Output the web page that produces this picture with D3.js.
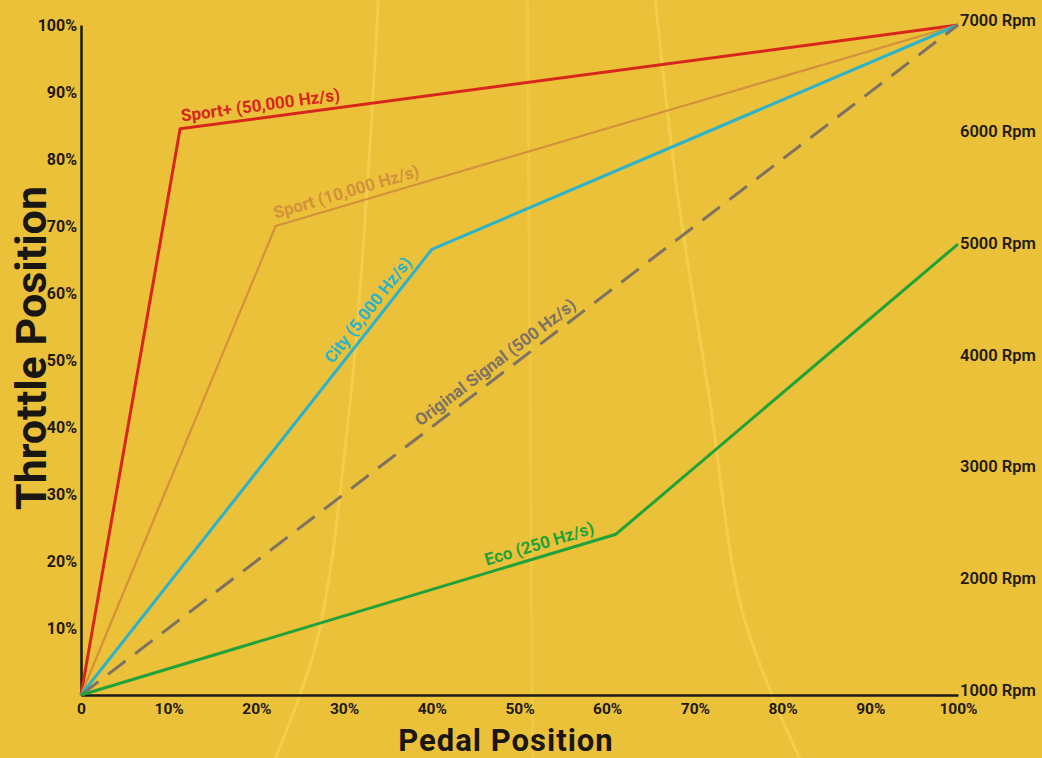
<!DOCTYPE html>
<html>
<head>
<meta charset="utf-8">
<script src="https://cdn.jsdelivr.net/npm/d3@7"></script>
<style>
  html, body { margin: 0; padding: 0; background: #ECC13A; }
  svg { display: block; }
  text { font-family: Roboto, "DejaVu Sans", sans-serif; }
</style>
</head>
<body>
<svg id="chart" width="1042" height="758"></svg>
<script>
// ---------- data ----------
const xTicks = [0, 10, 20, 30, 40, 50, 60, 70, 80, 90, 100];
const xTickLabels = ["0", "10%", "20%", "30%", "40%", "50%", "60%", "70%", "80%", "90%", "100%"];
const yTicks = [10, 20, 30, 40, 50, 60, 70, 80, 90, 100];
const yTickLabels = ["10%", "20%", "30%", "40%", "50%", "60%", "70%", "80%", "90%", "100%"];
const rpmTicks = [1000, 2000, 3000, 4000, 5000, 6000, 7000];

const seriesNames = ["Sport+ (50,000 Hz/s)", "Sport (10,000 Hz/s)", "City (5,000 Hz/s)", "Original Signal (500 Hz/s)", "Eco (250 Hz/s)"];
const sportPlusPedal = [0, 11.3, 100];
const sportPlusThrottle = [0, 84.5, 100];
const sportPedal = [0, 22.2, 100];
const sportThrottle = [0, 70, 100];
const cityPedal = [0, 40, 100];
const cityThrottle = [0, 66.5, 100];
const originalPedal = [0, 100];
const originalThrottle = [0, 100];
const ecoPedal = [0, 61, 100];
const ecoThrottle = [0, 24, 67.3];
// pedal position at which each series label starts
const labelStartPedal = [11.6, 22.4, 29.3, 39.2, 46.5];

// decorative road lines (in chart units)
const roadLeftPedal = [33.9, 32.6, 30.7, 26.9, 22.1];
const roadLeftThrottle = [103.7, 75, 43.9, 8.1, -9.6];
const roadCenterPedal = [50.9, 51.2, 51.5];
const roadCenterThrottle = [103.7, 47, -9.6];
const roadRightPedal = [65.5, 68.0, 71.7, 75.1, 78.6, 82.0];
const roadRightThrottle = [103.7, 75, 43.9, 14.0, 0.6, -9.6];

// ---------- layout ----------
const svg = d3.select("#chart");
const W = 1042, H = 758;
const mLeft = 81, mRight = 958, mTop = 25, mBottom = 695;

svg.append("rect").attr("width", W).attr("height", H).attr("fill", "#ECC13A");

const x = d3.scaleLinear().domain([0, 100]).range([mLeft, mRight]);
const y = d3.scaleLinear().domain([0, 100]).range([mBottom, mTop]);
const yr = d3.scaleLinear().domain([1000, 7000]).range([mBottom, mTop]);

const zip = (a, b) => a.map((v, i) => [v, b[i]]);
const line = d3.line().x(d => x(d[0])).y(d => y(d[1]));

// road decoration
const roadLine = d3.line().x(d => x(d[0])).y(d => y(d[1])).curve(d3.curveCatmullRom.alpha(0.5));
const roads = [
  { pts: zip(roadLeftPedal, roadLeftThrottle), op: 0.6, w: 3 },
  { pts: zip(roadCenterPedal, roadCenterThrottle), op: 0.35, w: 3 },
  { pts: zip(roadRightPedal, roadRightThrottle), op: 0.6, w: 3 }
];
svg.append("g").selectAll("path").data(roads).join("path")
  .attr("d", d => roadLine(d.pts))
  .attr("fill", "none")
  .attr("stroke", "#F8D658")
  .attr("stroke-width", d => d.w)
  .attr("opacity", d => d.op);

// axes
const gx = svg.append("g").attr("transform", `translate(0,${mBottom})`)
  .call(d3.axisBottom(x).tickValues(xTicks).tickFormat((d, i) => xTickLabels[i]).tickSize(0).tickPadding(8));
gx.select(".domain").attr("stroke", "#1a1a1a").attr("stroke-width", 2.5);
gx.selectAll("text").attr("font-size", 15.5).attr("font-weight", 700).attr("fill", "#1e1a12");

const gy = svg.append("g").attr("transform", `translate(${mLeft},0)`)
  .call(d3.axisLeft(y).tickValues(yTicks).tickFormat((d, i) => yTickLabels[i]).tickSize(0).tickPadding(4));
gy.select(".domain").attr("stroke", "#1a1a1a").attr("stroke-width", 2.5);
gy.selectAll("text").attr("font-size", 16).attr("font-weight", 700).attr("fill", "#1e1a12");

const gr = svg.append("g").attr("transform", `translate(${mRight},0)`)
  .call(d3.axisRight(yr).tickValues(rpmTicks).tickFormat(d => d + " Rpm").tickSize(0).tickPadding(2));
gr.select(".domain").remove();
gr.selectAll("text").attr("font-size", 16.5).attr("font-weight", 600).attr("fill", "#1e1a12").attr("dy", "0");

// axis titles
svg.append("text")
  .attr("transform", `translate(46,348) rotate(-90)`)
  .attr("text-anchor", "middle")
  .attr("font-size", 43).attr("font-weight", 700).attr("fill", "#1a1712")
  .text("Throttle Position");
svg.append("text")
  .attr("x", 506).attr("y", 750.5)
  .attr("text-anchor", "middle")
  .attr("font-size", 31).attr("font-weight", 700).attr("fill", "#1a1712")
  .attr("letter-spacing", 1)
  .text("Pedal Position");

// series
const series = [
  { name: seriesNames[0], pts: zip(sportPlusPedal, sportPlusThrottle), color: "#D8261D", dash: null, w: 3 },
  { name: seriesNames[1], pts: zip(sportPedal, sportThrottle), color: "#D4913C", dash: null, w: 2.2 },
  { name: seriesNames[2], pts: zip(cityPedal, cityThrottle), color: "#2BB3CC", dash: null, w: 3 },
  { name: seriesNames[3], pts: zip(originalPedal, originalThrottle), color: "#7E7263", dash: "22,12", w: 3 },
  { name: seriesNames[4], pts: zip(ecoPedal, ecoThrottle), color: "#1FA23A", dash: null, w: 3 }
];

svg.append("g").selectAll("path").data(series).join("path")
  .attr("d", d => line(d.pts))
  .attr("fill", "none")
  .attr("stroke", d => d.color)
  .attr("stroke-width", d => d.w)
  .attr("stroke-dasharray", d => d.dash)
  .attr("stroke-linejoin", "round");

// labels along lines
function segAt(pts, px) {
  for (let i = 0; i < pts.length - 1; i++) {
    if (px >= pts[i][0] && px <= pts[i + 1][0]) {
      const t = (px - pts[i][0]) / (pts[i + 1][0] - pts[i][0]);
      return {
        p: [px, pts[i][1] + t * (pts[i + 1][1] - pts[i][1])],
        a: pts[i], b: pts[i + 1]
      };
    }
  }
}
series.forEach((s, i) => {
  const seg = segAt(s.pts, labelStartPedal[i]);
  const ang = Math.atan2(y(seg.b[1]) - y(seg.a[1]), x(seg.b[0]) - x(seg.a[0])) * 180 / Math.PI;
  svg.append("text")
    .attr("transform", `translate(${x(seg.p[0])},${y(seg.p[1])}) rotate(${ang})`)
    .attr("dy", -7)
    .attr("font-size", 17).attr("font-weight", 700)
    .attr("fill", s.color)
    .text(s.name);
});
</script>
</body>
</html>
